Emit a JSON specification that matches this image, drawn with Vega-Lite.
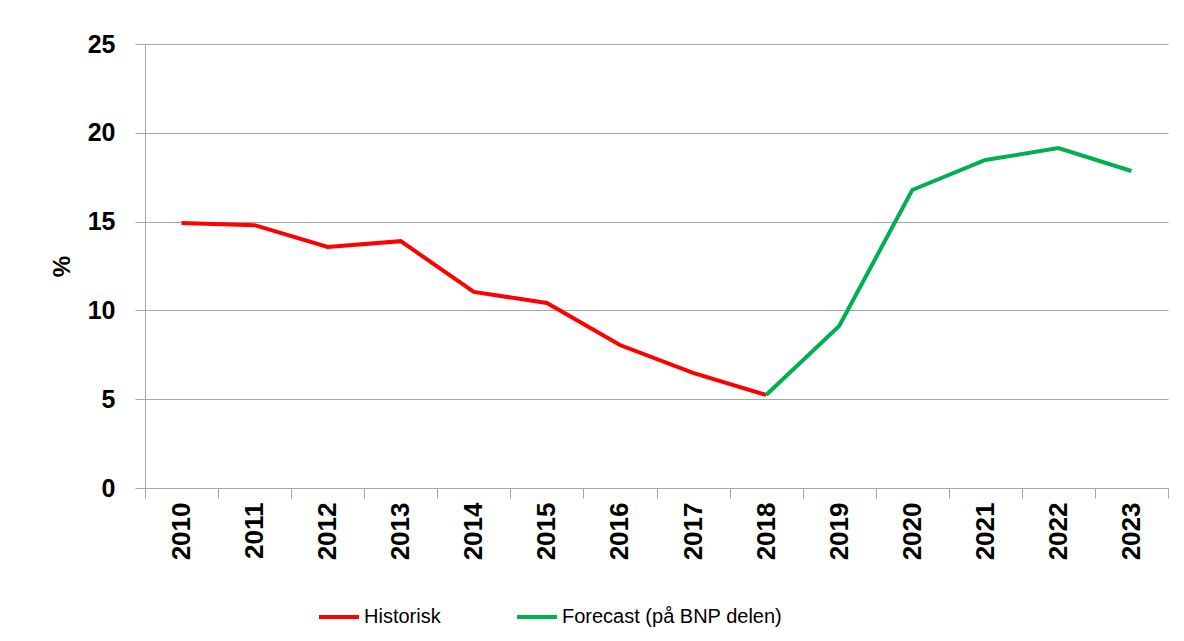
{
  "$schema": "https://vega.github.io/schema/vega-lite/v6.json",
  "width": 1023,
  "height": 444,
  "autosize": {"type": "none"},
  "padding": {"left": 145, "top": 44, "right": 16, "bottom": 153},
  "background": "white",
  "config": {"view": {"stroke": null}, "font": "Liberation Sans"},
  "data": {
    "values": [
      {"year": "2010", "serie": "Historisk", "value": 14.92},
      {"year": "2011", "serie": "Historisk", "value": 14.8},
      {"year": "2012", "serie": "Historisk", "value": 13.57},
      {"year": "2013", "serie": "Historisk", "value": 13.9},
      {"year": "2014", "serie": "Historisk", "value": 11.04},
      {"year": "2015", "serie": "Historisk", "value": 10.42},
      {"year": "2016", "serie": "Historisk", "value": 8.05},
      {"year": "2017", "serie": "Historisk", "value": 6.48},
      {"year": "2018", "serie": "Historisk", "value": 5.24},
      {"year": "2018", "serie": "Forecast (på BNP delen)", "value": 5.24},
      {"year": "2019", "serie": "Forecast (på BNP delen)", "value": 9.12},
      {"year": "2020", "serie": "Forecast (på BNP delen)", "value": 16.78},
      {"year": "2021", "serie": "Forecast (på BNP delen)", "value": 18.47},
      {"year": "2022", "serie": "Forecast (på BNP delen)", "value": 19.14},
      {"year": "2023", "serie": "Forecast (på BNP delen)", "value": 17.85}
    ]
  },
  "mark": {"type": "line", "strokeWidth": 4},
  "encoding": {
    "x": {
      "field": "year",
      "type": "ordinal",
      "bandPosition": 0.5,
      "scale": {"type": "band", "paddingInner": 0, "paddingOuter": 0},
      "axis": {
        "title": null,
        "tickBand": "extent",
        "labelAngle": -90,
        "labelFontSize": 26,
        "labelFontWeight": "bold",
        "labelColor": "black",
        "labelPadding": 4,
        "tickSize": 10,
        "tickColor": "#a6a6a6",
        "domainColor": "#a6a6a6",
        "grid": false
      }
    },
    "y": {
      "field": "value",
      "type": "quantitative",
      "scale": {"domain": [0, 25]},
      "axis": {
        "title": "%",
        "titleFontSize": 24,
        "titleFontWeight": "bold",
        "titleColor": "black",
        "titlePadding": 13,
        "values": [0, 5, 10, 15, 20, 25],
        "labelFontSize": 25,
        "labelFontWeight": "bold",
        "labelColor": "black",
        "labelPadding": 20,
        "tickSize": 10,
        "tickColor": "#a6a6a6",
        "domainColor": "#a6a6a6",
        "grid": true,
        "gridColor": "#a6a6a6"
      }
    },
    "color": {
      "field": "serie",
      "type": "nominal",
      "scale": {"domain": ["Historisk", "Forecast (på BNP delen)"], "range": ["#ff0000", "#00b050"]},
      "legend": {
        "title": null,
        "orient": "none",
        "direction": "horizontal",
        "legendX": 172,
        "legendY": 551,
        "symbolType": "stroke",
        "symbolSize": 1600,
        "symbolStrokeWidth": 4,
        "labelFontSize": 20,
        "labelLimit": 500,
        "labelColor": "black",
        "labelOffset": 3,
        "columnPadding": 68
      }
    }
  }
}
